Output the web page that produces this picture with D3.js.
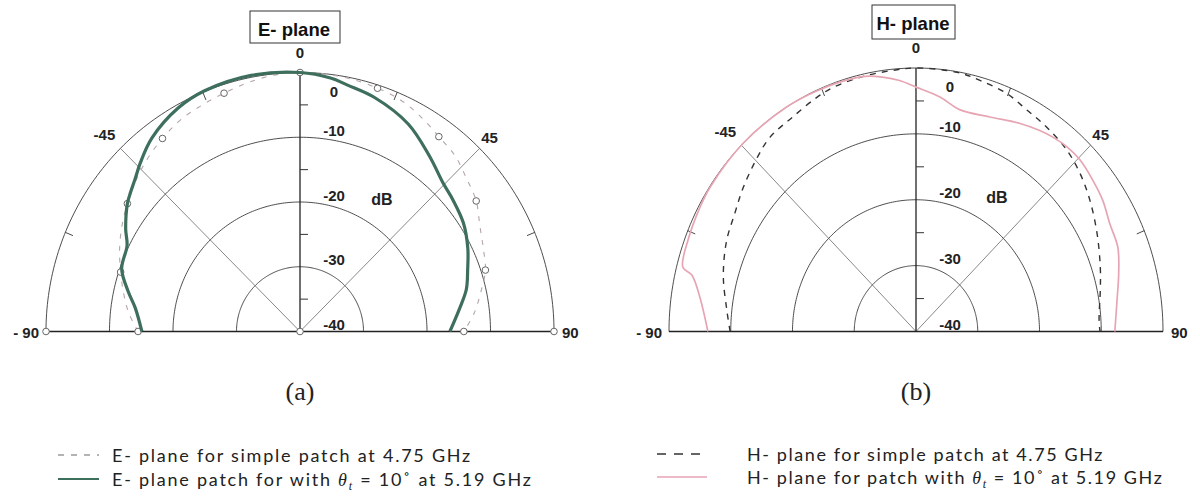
<!DOCTYPE html>
<html>
<head>
<meta charset="utf-8">
<script src="https://cdn.jsdelivr.net/npm/d3@7/dist/d3.min.js"></script>
<style>
  html, body { margin: 0; padding: 0; background: #fff; }
  svg { display: block; }
</style>
</head>
<body>
<svg id="chart" width="1200" height="503"></svg>
<script>
// ---- Data: polar radiation patterns (angle in degrees, gain in dB) ----

// E-plane, simple patch at 4.75 GHz
const eSimpleAngles = [-90,-84,-78,-72,-66,-60,-54,-48,-42,-36,-30,-24,-18,-12,-6,0,6,12,18,24,30,36,42,48,54,60,66,72,78,84,90];
const eSimpleDb     = [-14.5,-12.9,-11.6,-10.3,-8.9,-7.6,-6.4,-5.2,-4.1,-3.15,-2.3,-1.8,-1.3,-0.7,-0.2,0,-0.05,-0.2,-0.5,-0.9,-1.8,-2.8,-3.5,-4.7,-5.7,-7.3,-8.4,-9.3,-10.9,-12.4,-14.2];

// E-plane, patch with theta_t = 10 deg at 5.19 GHz
const eTiltAngles = [-90,-82,-77,-71,-64,-60,-54,-51,-48,-44,-38,-29,-22,-11,0,7,11,18,28,37,44.5,50,57,64,70,76,81.5,90];
const eTiltDb     = [-15.1,-13.8,-12.2,-10.3,-9.7,-8.3,-6.4,-5.7,-5.0,-3.8,-2.1,-0.5,0.1,0.3,0,-0.56,-1.2,-2.0,-3.7,-6.1,-7.85,-8.5,-9.3,-10.6,-11.9,-13.0,-14.5,-16.4];

// H-plane, simple patch at 4.75 GHz
const hSimpleAngles = [-90,-84,-75,-66,-58.5,-52,-44,-38.7,-31.5,-24.3,-20,-13,-6,0,9.6,15.2,22.2,28.2,34.4,41.6,47.9,54.7,63,71.9,78.1,86.6,90];
const hSimpleDb     = [-9.9,-9.2,-7.7,-6.4,-5.6,-4.5,-3.1,-2.2,-1.8,-1.0,-0.6,-0.35,-0.2,0,-0.1,-0.5,-1.0,-1.9,-2.45,-3.2,-4.2,-5.5,-7.1,-8.6,-9.5,-10.3,-10.2];

// H-plane, patch with theta_t = 10 deg at 5.19 GHz
const hTiltAngles = [-90,-81.5,-76.7,-75.5,-69.4,-61.7,-56.7,-44.4,-31.5,-23.8,-17.3,-12,-8,-4,0,6.2,12,20.2,28.1,33.3,36.9,41.1,45.6,51.3,56.7,62.4,68.6,74.9,81.7,90];
const hTiltDb     = [-6.3,-4.6,-2.7,-1.0,-0.56,-0.26,-0.1,0,0,-0.1,-0.2,-0.4,-1.0,-1.8,-2.9,-4.2,-5.6,-5.3,-4.2,-3.5,-3.1,-2.8,-2.8,-3.3,-3.8,-4.6,-4.9,-6.0,-7.1,-7.8];

// Axis ticks
const ringDb       = [-30, -20, -10, 0];
const minorDb      = [-35, -25, -15, -5];
const dbLabels     = [0, -10, -20, -30, -40];
const angleTicks   = [-90, -45, 0, 45, 90];
const angleLabels  = ["- 90", "-45", "0", "45", "90"];
const spokeAngles  = [-45, 45];
const outerTicks   = [-67.5, -22.5, 22.5, 67.5];
const markerStep   = 18;

// Legend text
const legendLeft  = ["E- plane for simple patch at 4.75 GHz", "E- plane patch for with ", " = 10˚ at 5.19 GHz"];
const legendRight = ["H- plane for simple patch at 4.75 GHz", "H- plane for patch with ", " = 10˚ at 5.19 GHz"];

const svg = d3.select("#chart");
const FONT = "'Liberation Sans', Arial, sans-serif";

const rScale = d3.scaleLinear().domain([-40, 0]).range([0, 1]);
const aScale = d3.scaleLinear().domain([-90, 90]).range([-Math.PI / 2, Math.PI / 2]);

function makePanel(cfg) {
  const g = svg.append("g");
  const P = (a, db) => {
    const r = rScale(db), t = aScale(a);
    return [cfg.cx + cfg.rx * r * Math.sin(t), cfg.cy - cfg.ry * r * Math.cos(t)];
  };
  const half = d3.range(-90, 90.5, 1);

  // rings
  const ringLine = d3.line();
  g.selectAll(".ring").data(ringDb).join("path")
    .attr("d", db => ringLine(half.map(a => P(a, db))))
    .attr("fill", "none").attr("stroke", "#3a3a3a").attr("stroke-width", 0.9);

  // spokes at +-45
  g.selectAll(".spoke").data(spokeAngles).join("line")
    .attr("x1", cfg.cx).attr("y1", cfg.cy)
    .attr("x2", a => P(a, 0)[0]).attr("y2", a => P(a, 0)[1])
    .attr("stroke", "#555").attr("stroke-width", 0.7);

  // ticks on the outer ring
  g.selectAll(".otick").data(outerTicks).join("line")
    .attr("x1", a => P(a, 0)[0]).attr("y1", a => P(a, 0)[1])
    .attr("x2", a => P(a, -1.3)[0]).attr("y2", a => P(a, -1.3)[1])
    .attr("stroke", "#333").attr("stroke-width", 0.9);

  // baseline and vertical radial axis
  g.append("line")
    .attr("x1", P(-90, 0)[0]).attr("y1", cfg.cy).attr("x2", P(90, 0)[0]).attr("y2", cfg.cy)
    .attr("stroke", "#222").attr("stroke-width", 1.3);
  g.append("line")
    .attr("x1", cfg.cx).attr("y1", cfg.cy).attr("x2", cfg.cx).attr("y2", P(0, 0)[1])
    .attr("stroke", "#222").attr("stroke-width", 1.3);
  g.selectAll(".mtick").data(minorDb).join("line")
    .attr("x1", cfg.cx).attr("x2", cfg.cx + 8)
    .attr("y1", db => P(0, db)[1]).attr("y2", db => P(0, db)[1])
    .attr("stroke", "#333").attr("stroke-width", 1);

  // dB labels
  g.selectAll(".dbl").data(dbLabels).join("text")
    .attr("x", cfg.cx + 34)
    .attr("y", db => P(0, db)[1] + (db === 0 ? 24 : -1.5))
    .attr("text-anchor", "middle")
    .attr("font-family", FONT).attr("font-weight", "bold").attr("font-size", 15)
    .attr("fill", "#222").text(d => d);
  g.append("text")
    .attr("x", cfg.cx + cfg.dbX).attr("y", P(0, -20)[1] + 3)
    .attr("text-anchor", "middle")
    .attr("font-family", FONT).attr("font-weight", "bold").attr("font-size", 16)
    .attr("fill", "#222").text("dB");

  // angle labels
  angleTicks.forEach((a, i) => {
    const [x, y] = P(a, 0);
    let tx = x, ty = y, anchor = "middle";
    if (a === 0) { ty = y - 15; }
    else if (a === -45) { tx = x - 16; ty = y - 8; }
    else if (a === 45) { tx = x + 10; ty = y - 5; }
    else if (a === -90) { tx = x - 7; ty = y + 6; anchor = "end"; }
    else if (a === 90) { tx = x + 8; ty = y + 6; anchor = "start"; }
    g.append("text").attr("x", tx).attr("y", ty).attr("text-anchor", anchor)
      .attr("font-family", FONT).attr("font-weight", "bold").attr("font-size", 15)
      .attr("fill", "#222").text(angleLabels[i]);
  });

  // title box
  g.append("rect")
    .attr("x", cfg.box[0]).attr("y", cfg.box[1]).attr("width", cfg.box[2]).attr("height", cfg.box[3])
    .attr("fill", "#fff").attr("stroke", "#333").attr("stroke-width", 1);
  g.append("text")
    .attr("x", cfg.titleX).attr("y", cfg.titleY)
    .attr("text-anchor", "middle")
    .attr("font-family", FONT).attr("font-weight", "bold").attr("font-size", 18.5)
    .attr("fill", "#111").text(cfg.title);

  // caption
  g.append("text")
    .attr("x", cfg.cx).attr("y", 400)
    .attr("text-anchor", "middle")
    .attr("font-family", "'Liberation Serif', 'Times New Roman', serif").attr("font-size", 26)
    .attr("fill", "#222").text(cfg.caption);

  const line = d3.line().curve(d3.curveCatmullRom.alpha(0.5));
  cfg.series.forEach(s => {
    const pts = s.angles.map((a, i) => P(a, s.db[i]));
    g.append("path").attr("d", line(pts))
      .attr("fill", "none").attr("stroke", s.color).attr("stroke-width", s.width)
      .attr("stroke-dasharray", s.dash || null)
      .attr("stroke-linejoin", "round");
    if (s.markers) {
      const mk = s.angles.map((a, i) => [a, s.db[i]]).filter(d => d[0] % markerStep === 0);
      g.selectAll(null).data(mk).join("circle")
        .attr("cx", d => P(d[0], d[1])[0]).attr("cy", d => P(d[0], d[1])[1]).attr("r", 3.3)
        .attr("fill", "#fff").attr("stroke", "#666").attr("stroke-width", 1);
    }
  });

  if (cfg.axisMarkers) {
    const am = [P(-90, 0), P(90, 0), [cfg.cx, cfg.cy]];
    g.selectAll(null).data(am).join("circle")
      .attr("cx", d => d[0]).attr("cy", d => d[1]).attr("r", 3.3)
      .attr("fill", "#fff").attr("stroke", "#666").attr("stroke-width", 1);
  }
}

makePanel({
  cx: 300, cy: 331.5, rx: 254, ry: 259, dbX: 82,
  title: "E- plane", titleX: 294, titleY: 36, box: [250, 11, 90, 32],
  caption: "(a)", axisMarkers: true,
  series: [
    { angles: eSimpleAngles, db: eSimpleDb, color: "#b4a6a8", width: 1.1, dash: "5,7", markers: true },
    { angles: eTiltAngles, db: eTiltDb, color: "#3e6f5d", width: 3.2 }
  ]
});

makePanel({
  cx: 916, cy: 331.5, rx: 247, ry: 263.5, dbX: 81,
  title: "H- plane", titleX: 913, titleY: 29.5, box: [872, 5, 83, 34],
  caption: "(b)", axisMarkers: false,
  series: [
    { angles: hSimpleAngles, db: hSimpleDb, color: "#333", width: 1.4, dash: "6,6" },
    { angles: hTiltAngles, db: hTiltDb, color: "#e7a5b4", width: 1.7 }
  ]
});

// ---- Legends ----
const LFONT = "Lato, 'Open Sans', sans-serif";
const LSIZE = 18;
function legendBlock(x0, sampleX1, sampleX2, texts, rows) {
  const g = svg.append("g");
  rows.forEach(r => {
    g.append("line").attr("x1", sampleX1).attr("x2", sampleX2).attr("y1", r.y).attr("y2", r.y)
      .attr("stroke", r.color).attr("stroke-width", r.width).attr("stroke-dasharray", r.dash || null);
  });
  const t1 = g.append("text").attr("x", x0).attr("y", rows[0].y + 6.5)
    .attr("font-family", LFONT).attr("font-size", LSIZE).attr("fill", "#222").text(texts[0]);
  const t2 = g.append("text").attr("x", x0).attr("y", rows[1].y + 6.5)
    .attr("font-family", LFONT).attr("font-size", LSIZE).attr("fill", "#222");
  t2.append("tspan").text(texts[1]);
  t2.append("tspan").attr("font-family", "'Liberation Serif', serif").attr("font-style", "italic").text("θ");
  t2.append("tspan").attr("font-family", "'Liberation Serif', serif").attr("font-style", "italic")
    .attr("font-size", 12).attr("dy", 4).text("t");
  t2.append("tspan").attr("dy", -4).text(texts[2]);
  return g;
}

const l1 = legendBlock(112, 58, 99, legendLeft, [
  { y: 455, color: "#9a9a9a", width: 1.3, dash: "6,7" },
  { y: 479, color: "#3e6f5d", width: 2.2 }
]);
const l2 = legendBlock(747, 657, 707, legendRight, [
  { y: 454, color: "#333", width: 1.4, dash: "9,8" },
  { y: 477, color: "#e7a5b4", width: 1.3 }
]);

// widen letter spacing so the first row spans its full width
[[l1, 360], [l2, 357]].forEach(([g, w]) => {
  const first = g.select("text");
  const len = first.node().getComputedTextLength();
  const n = first.text().length;
  g.selectAll("text").attr("letter-spacing", Math.max(0, (w - len) / n));
});
</script>
</body>
</html>
